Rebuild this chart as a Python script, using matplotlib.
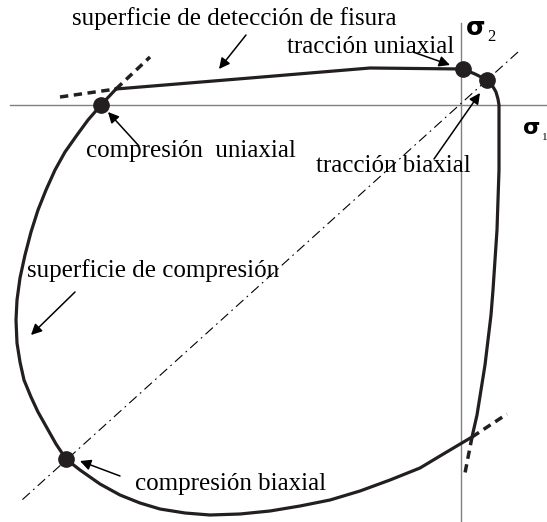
import matplotlib.pyplot as plt

# positions, in pixels (x right, y down)
curve_x = [116, 250, 370, 463, 475, 487, 492, 496, 498, 499,
           499, 499, 498, 497, 495, 493, 491, 488, 485, 481, 477, 472,
           445, 420, 390, 360, 330, 300, 270, 240, 210, 185, 160, 140, 120, 100, 80, 66,
           56, 47, 38, 31, 24, 20, 17, 16, 17, 20, 25, 31, 38, 46, 55, 65, 77, 88, 101, 116]
curve_y = [89, 78, 68, 69, 74, 80, 85, 92, 99, 105,
           140, 170, 200, 230, 260, 290, 315, 340, 365, 390, 415, 437,
           453, 468, 480, 491, 500, 506, 511, 514, 515, 513, 509, 503, 495, 484, 470, 459,
           444, 428, 412, 397, 380, 362, 343, 320, 300, 278, 255, 232, 210, 190, 170, 152, 135, 120, 105, 89]

dots_x = [101, 463, 487, 66]
dots_y = [105, 69, 80, 459]

tangents = [([60, 116], [97, 89]), ([116, 150], [89, 57]),
            ([472, 507], [437, 414]), ([472, 465], [437, 473])]

diag_x = [518, 22]
diag_y = [52, 500]

labels = [
    ("superficie de detección de fisura", 72, 19),
    ("tracción uniaxial", 287, 47),
    ("compresión  uniaxial", 86, 151),
    ("tracción biaxial", 316, 166),
    ("superficie de compresión", 27, 271),
    ("compresión biaxial", 135, 484),
]
arrows = [((246, 35), (219, 69)), ((413, 52), (450, 65)), ((139, 146), (108, 112)),
          ((434, 159), (480, 93)), ((75, 292), (31, 335)), ((120, 476), (80, 461))]

fig = plt.figure(figsize=(5.47, 5.22), dpi=100)
ax = fig.add_axes([0, 0, 1, 1])
ax.set_xlim(0, 547)
ax.set_ylim(522, 0)
ax.axis('off')

# axes of the sigma plane
ax.plot([10, 547], [105, 105], color='#808080', lw=1.0)
ax.plot([461, 461], [23, 522], color='#808080', lw=1.0)
ax.plot(diag_x, diag_y, color='black', lw=0.8, linestyle=(0, (9, 4, 1.5, 4)))

ax.plot(curve_x, curve_y, color='#231f20', lw=2.3, solid_joinstyle='round')
for tx, ty in tangents:
    ax.plot(tx, ty, color='#231f20', lw=2.5, linestyle=(0, (2.4, 1.6)))
ax.plot(dots_x, dots_y, 'o', color='#231f20', ms=11)

for txt, x, y in labels:
    ax.text(x, y, txt, fontsize=18, family='Liberation Serif', ha='left', va='center')
for tail, head in arrows:
    ax.annotate('', xy=head, xytext=tail,
                arrowprops=dict(arrowstyle='-|>', color='black', lw=1.1, mutation_scale=16,
                                shrinkA=0, shrinkB=0))

ax.text(466, 28, 'σ', fontsize=18, fontweight='bold', family='DejaVu Sans', ha='left', va='center')
ax.text(487, 37, '2', fontsize=12, family='Liberation Serif', ha='left', va='center')
ax.text(523, 128, 'σ', fontsize=16, fontweight='bold', family='DejaVu Sans', ha='left', va='center')
ax.text(542, 137, '1', fontsize=8, family='Liberation Serif', ha='left', va='center')

fig.savefig('out.png', dpi=100)
